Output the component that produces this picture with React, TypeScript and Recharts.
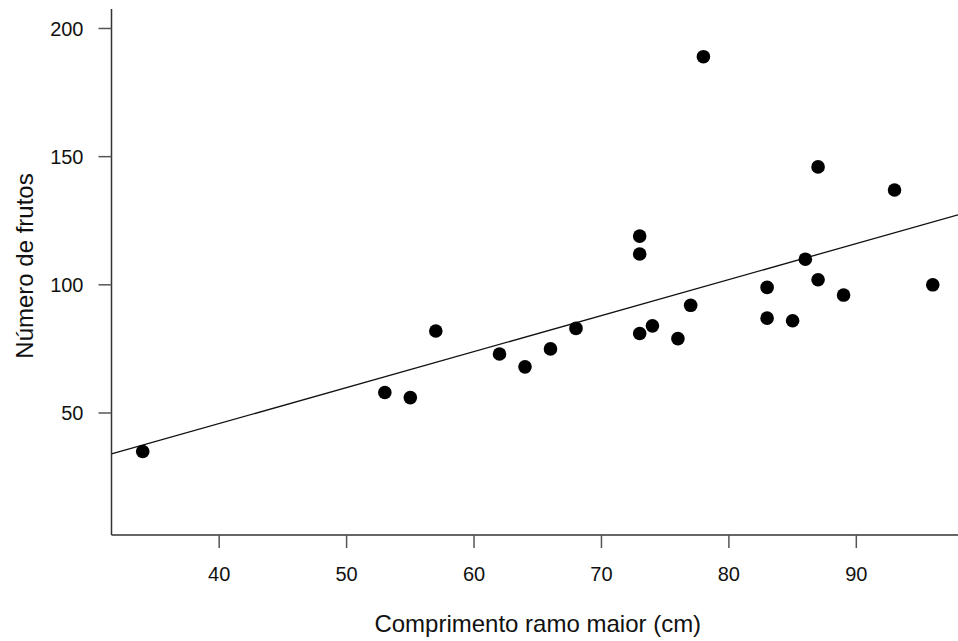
import { ScatterChart, Scatter, XAxis, YAxis } from "recharts";

// comprimento do ramo maior (cm)
const COMPRIMENTO = [
  34, 53, 55, 57, 62, 64, 66, 68, 73, 73, 73, 74,
  76, 77, 78, 83, 83, 85, 86, 87, 87, 89, 93, 96,
];
// número de frutos
const FRUTOS = [
  35, 58, 56, 82, 73, 68, 75, 83, 81, 112, 119, 84,
  79, 92, 189, 99, 87, 86, 110, 102, 146, 96, 137, 100,
];

const RETA_X = [31.55, 97.98];
const RETA_Y = [34.0, 127.3];

const X_TICKS = [40, 50, 60, 70, 80, 90];
const Y_TICKS = [50, 100, 150, 200];

const pontos = COMPRIMENTO.map((x, i) => ({ x, y: FRUTOS[i] }));
const reta = RETA_X.map((x, i) => ({ x, y: RETA_Y[i] }));

const FONT = '"Liberation Sans", Arial, sans-serif';

const Dot = (props: any) => (
  <circle cx={props.cx} cy={props.cy} r={6.8} fill="#000" />
);

export default function App() {
  return (
    <div style={{ position: "absolute", left: 0, top: 0, background: "#fff" }}>
      <ScatterChart
        width={958}
        height={641}
        margin={{ top: 9, right: 0, bottom: 0, left: 0 }}
        style={{ fontFamily: FONT }}
      >
        <XAxis
          dataKey="x"
          type="number"
          domain={[31.55, 97.98]}
          ticks={X_TICKS}
          allowDataOverflow
          height={106}
          tickSize={13}
          tickMargin={18.7}
          axisLine={{ stroke: "#333", strokeWidth: 1.5 }}
          tickLine={{ stroke: "#555", strokeWidth: 1.5 }}
          tick={{ fill: "#111", fontSize: 20, fontFamily: FONT }}
          label={{
            value: "Comprimento ramo maior (cm)",
            position: "insideBottom",
            offset: 9,
            dx: 3,
            fill: "#111",
            fontSize: 24,
            fontFamily: FONT,
          }}
        />
        <YAxis
          dataKey="y"
          type="number"
          domain={[2.4, 207.6]}
          ticks={Y_TICKS}
          allowDataOverflow
          width={111.5}
          tickSize={13}
          tickMargin={15}
          axisLine={{ stroke: "#333", strokeWidth: 1.5 }}
          tickLine={{ stroke: "#555", strokeWidth: 1.5 }}
          tick={{ fill: "#111", fontSize: 20, fontFamily: FONT }}
          label={{
            content: () => (
              <text
                x={33}
                y={266}
                transform="rotate(-90 33 266)"
                textAnchor="middle"
                fill="#111"
                fontSize={24}
                fontFamily={FONT}
              >
                Número de frutos
              </text>
            ),
          }}
        />
        <Scatter
          data={reta}
          line={{ stroke: "#111", strokeWidth: 1.3 }}
          shape={() => <g />}
          isAnimationActive={false}
        />
        <Scatter data={pontos} shape={Dot} isAnimationActive={false} />
      </ScatterChart>
    </div>
  );
}
